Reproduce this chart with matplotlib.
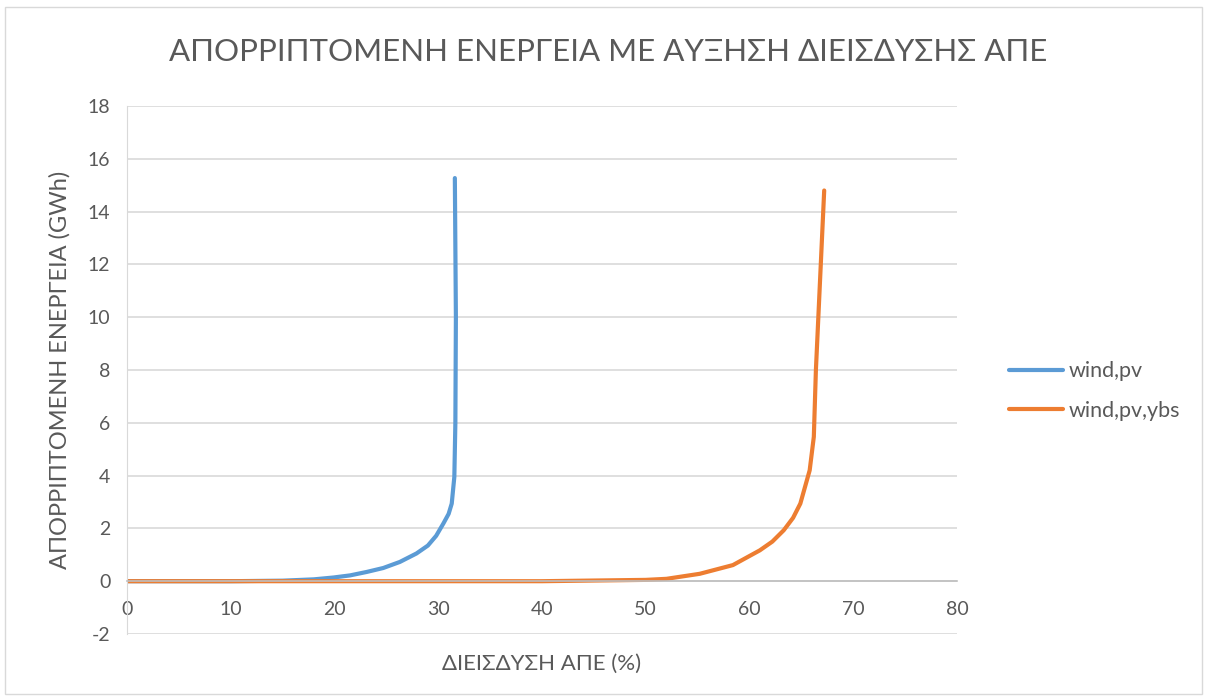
import matplotlib
matplotlib.use("Agg")
from matplotlib import pyplot as plt
from matplotlib.patches import Rectangle

# series
wind_pv_x = [0, 5, 10, 15, 18, 19.9, 21.5, 23.1, 24.7, 26.3, 27.9, 29.0, 29.8, 30.5, 31.0, 31.3, 31.55, 31.65, 31.7, 31.6]
wind_pv_y = [0, 0, 0, 0.02, 0.07, 0.14, 0.22, 0.35, 0.5, 0.73, 1.05, 1.35, 1.72, 2.19, 2.55, 2.94, 3.95, 6.0, 10.0, 15.27]

wind_pv_ybs_x = [0, 10, 20, 30, 40, 50, 52, 55.2, 58.4, 61.0, 62.2, 63.3, 64.2, 64.9, 65.8, 66.2, 66.4, 67.2]
wind_pv_ybs_y = [0, 0, 0, 0, 0, 0.05, 0.09, 0.28, 0.61, 1.17, 1.5, 1.93, 2.4, 2.94, 4.2, 5.47, 8.0, 14.8]

x_ticks = [0, 10, 20, 30, 40, 50, 60, 70, 80]
y_ticks = [-2, 0, 2, 4, 6, 8, 10, 12, 14, 16, 18]

txt = "#595959"
plt.rcParams['font.family'] = ['Lato', 'DejaVu Sans']
plt.rcParams['axes.unicode_minus'] = False

fig = plt.figure(figsize=(12.09, 6.98), dpi=100)
fig.patches.append(Rectangle((0.004, 0.006), 0.99, 0.984, transform=fig.transFigure,
                             fill=False, edgecolor="#d9d9d9", linewidth=1))

ax = fig.add_axes([127 / 1209, 1 - 634 / 698, (957 - 127) / 1209, (634 - 106) / 698])

ax.plot(wind_pv_x, wind_pv_y, color="#5B9BD5", linewidth=3, label="wind,pv", solid_capstyle="round")
ax.plot(wind_pv_ybs_x, wind_pv_ybs_y, color="#ED7D31", linewidth=3, label="wind,pv,ybs", solid_capstyle="round")

ax.set_xlim(0, 80)
ax.set_ylim(-2, 18)
ax.set_xticks(x_ticks)
ax.set_yticks(y_ticks)
ax.grid(axis="y", color="#d9d9d9", linewidth=1.2)
ax.set_axisbelow(True)

for s in ["top", "right"]:
    ax.spines[s].set_visible(False)
ax.spines["left"].set_color("#d9d9d9")
ax.spines["bottom"].set_position(("data", 0))
ax.spines["bottom"].set_color("#bfbfbf")
ax.spines["bottom"].set_linewidth(1.2)
ax.tick_params(length=0, labelsize=14, colors=txt)
ax.tick_params(axis="y", pad=12)
ax.tick_params(axis="x", pad=14)

fig.text(0.503, 1 - 52 / 698, "ΑΠΟΡΡΙΠΤΟΜΕΝΗ ΕΝΕΡΓΕΙΑ ΜΕ ΑΥΞΗΣΗ ΔΙΕΙΣΔΥΣΗΣ ΑΠΕ",
         fontsize=22.5, color=txt, ha="center", va="center")
ax.set_xlabel("ΔΙΕΙΣΔΥΣΗ ΑΠΕ (%)", fontsize=16, color=txt, labelpad=26)
ax.set_ylabel("ΑΠΟΡΡΙΠΤΟΜΕΝΗ ΕΝΕΡΓΕΙΑ (GWh)", fontsize=17, color=txt, labelpad=12)

leg = fig.legend(loc="center left", bbox_to_anchor=(1009 / 1209, 1 - 391 / 698), frameon=False,
                 fontsize=15.5, labelcolor=txt, handlelength=2.5, handletextpad=0.25,
                 labelspacing=0.9, borderpad=0, borderaxespad=0)

fig.savefig("out.png", dpi=100)
